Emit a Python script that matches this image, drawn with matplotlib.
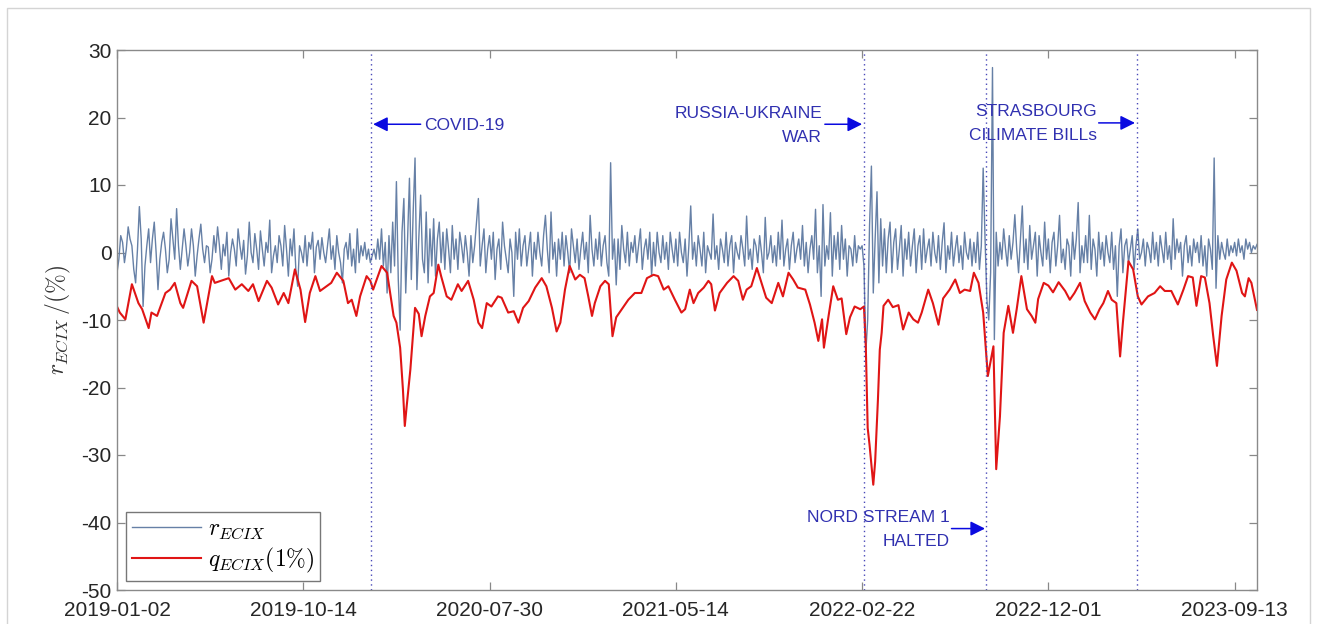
import numpy as np
import matplotlib
matplotlib.use('Agg')
import matplotlib.pyplot as plt

plt.rcParams['font.family'] = ['Liberation Sans', 'DejaVu Sans']
plt.rcParams['mathtext.fontset'] = 'cm'
plt.rcParams['axes.unicode_minus'] = False

# x axis is the observation number, labelled with dates every 200 obs
tick_pos = [0, 200, 400, 600, 800, 1000, 1200]
tick_labels = ['2019-01-02', '2019-10-14', '2020-07-30', '2021-05-14',
               '2022-02-22', '2022-12-01', '2023-09-13']
n_obs = 1224

# r_ECIX, read every 2nd observation (one row = 40 obs)
r_step = 2
r_ecix = [
    -3.0, -1.0, 2.5, 1.5, -1.5, 0.5, 3.8, 2.0, 1.0, -2.5, -4.5, 0.5, 6.8, 2.0, -8.0, -2.0, 1.0, 3.5, -1.5, 2.0,
    4.5, 0.0, -5.5, -1.0, 1.5, 3.0, 0.5, -3.0, -1.0, 5.0, 2.0, -1.0, 6.5, 1.0, -2.5, 0.5, 3.5, 1.0, -2.0, 0.0,
    3.5, 1.0, -3.5, -0.5, 2.0, 4.2, 0.5, -1.5, 1.0, 0.8, -3.0, -1.0, 2.5, 0.0, 3.8, 1.0, -2.5, 1.2, -0.5, 3.0,
    -3.5, 0.0, 2.0, 0.5, -2.0, 3.5, 1.0, -1.0, 1.8, -3.2, -0.5, 4.5, 0.0, -1.5, 2.8, 0.5, -2.5, 3.2, 0.5, -2.0,
    1.5, 0.0, 4.8, -3.0, -0.5, 1.0, -1.5, 2.5, 1.0, -2.0, 4.0, 0.5, -3.5, 2.0, -0.5, 3.5, -2.5, -5.0, 1.0, 0.0,
    -1.5, 2.5, -2.0, 1.5, 0.5, 3.0, -3.0, 0.8, 1.8, -1.0, 2.2, 0.0, -1.5, 1.0, 3.5, -1.0, 1.0, -2.5, 2.5, 0.0,
    -1.5, -4.5, 0.5, 1.5, -1.0, 2.8, -2.0, 0.5, -3.0, 3.5, -1.5, 1.0, -0.5, 1.5, -1.0, 0.5, -1.5, -0.5, 0.5, -1.0,
    2.0, -1.0, 3.5, -2.0, 1.5, -6.0, 2.5, -3.0, 4.5, -2.0, 10.5, -4.0, -11.5, 3.0, 8.0, -6.0, 2.0, 11.0, -4.0, 6.0,
    14.0, -5.5, 2.0, 8.5, -1.0, -3.0, 6.0, -4.5, 3.5, -2.0, 5.0, -3.5, 2.0, 4.5, -1.5, 3.0, -2.5, 3.5, 0.5, -3.0,
    4.0, -1.0, 2.0, -2.5, 3.0, 1.0, -1.5, 2.5, 0.0, -3.5, 2.5, -1.5, 1.0, 4.5, 8.0, -2.0, 1.0, 3.5, -3.0, 0.5,
    2.5, -1.0, 3.0, -4.0, 0.5, 2.0, -2.5, 4.5, 1.0, -1.0, -3.0, 2.0, 0.0, -6.5, 3.0, -1.0, 3.5, -2.0, 1.0, 2.5,
    -2.0, 0.5, 3.0, -3.5, 1.5, -1.0, 3.0, 0.0, -2.0, 2.5, 5.5, 0.5, -3.0, 6.0, -1.0, 1.5, -3.5, 2.0, -1.0, 3.0,
    -2.0, 2.5, 0.0, -3.0, 3.5, 1.0, -1.5, 2.0, -2.5, 0.5, 3.0, -1.0, 1.5, -3.0, 5.5, 0.5, -2.0, 2.0, -1.0, 3.0,
    -2.0, 1.0, 2.5, -1.5, -3.5, 13.3, -1.0, 2.0, -4.8, 2.0, -2.5, 4.0, 0.5, -1.5, 3.0, -2.0, 1.5, 0.0, 2.5, -1.5,
    1.0, 3.5, -2.5, 0.5, 2.0, -1.0, 3.0, -3.5, 1.5, -2.0, 3.0, 0.0, -1.5, 2.5, -1.0, 1.5, -2.5, 3.0, 0.5, -1.5,
    2.0, -2.0, 3.0, 0.0, -1.5, 2.0, -3.5, 1.0, 6.9, -1.0, 1.5, -2.0, 2.5, 0.5, -2.0, 3.0, -3.0, 1.0, 0.0, -1.0,
    5.7, -1.0, 1.0, -2.5, 2.0, 0.5, -1.5, 3.0, -2.0, 1.0, 2.5, -3.0, 1.5, 0.0, -1.0, 2.5, 0.5, -2.0, 5.4, -1.0,
    0.5, -2.5, 2.0, 1.0, -1.5, 2.5, 0.0, -3.0, 5.2, -1.0, 0.0, 2.5, -1.5, 1.0, -2.0, 3.0, -1.0, 4.8, -2.0, 0.5,
    2.0, -2.5, 1.0, 3.0, -1.5, 0.5, 2.0, -1.0, 4.0, -2.0, 1.5, -3.0, 0.5, 2.5, -1.0, 6.4, -3.0, 1.0, -6.5, 7.1,
    -2.0, 1.0, -1.0, 5.9, -3.5, 2.5, -1.0, 3.0, -2.5, 4.0, -1.0, 2.0, -3.5, 1.0, 0.5, -2.0, 2.5, -1.5, 1.0, 0.5,
    1.0, -2.0, -14.8, -10.0, 4.0, 12.8, -6.0, 2.0, 9.0, -4.5, 5.0, -2.0, 3.5, -3.0, 2.0, 4.5, -3.0, 1.5, 3.5, -2.5,
    0.5, 4.0, -3.5, 2.0, -1.0, 3.0, -2.0, 1.0, 3.5, -3.0, 1.0, 2.5, -2.5, 3.5, -1.5, 0.5, 2.0, -2.0, 3.0, 0.0,
    -1.5, 2.5, -2.5, 1.5, 4.4, -3.0, 1.0, -1.0, 3.0, -2.0, 0.5, 2.5, -1.5, 1.0, -2.5, 3.0, 0.0, -1.0, 2.0, -2.0,
    1.5, -1.5, 3.0, -2.5, 1.0, 12.5, 2.0, -7.0, -10.0, -3.0, 27.4, -12.9, 3.0, -2.0, 1.5, -1.0, 3.5, 0.5, -2.0, 2.5,
    -1.0, 1.5, 5.6, 0.5, -3.0, 2.0, 6.9, -1.5, 2.0, -2.5, 4.0, -1.0, 1.0, 3.0, -3.5, 2.5, 0.0, -2.0, 4.5, -1.0,
    2.0, -3.0, 1.5, 3.0, -2.0, 1.0, 5.5, -1.5, 0.5, -2.5, 2.0, 1.0, -3.5, 3.0, -1.0, 2.0, 7.4, -3.0, 1.0, -1.5,
    2.5, -1.5, 5.5, -2.5, 2.0, 0.5, -3.5, 3.0, -1.0, 1.5, -2.0, 2.5, 0.0, -1.5, 3.0, -2.5, 1.0, -6.5, 1.0, 3.5,
    -3.0, 1.0, 2.0, -1.5, 0.5, 2.5, -2.5, 1.0, 3.5, -1.0, 0.0, 2.0, -2.0, 1.5, 0.5, -1.5, 3.0, -1.0, 1.5, -2.0,
    2.5, 0.5, -1.5, 3.0, -1.0, 1.0, -2.5, 5.0, -1.0, 2.0, 0.0, 1.5, -3.5, 1.0, 2.5, -1.5, 1.0, -2.0, 2.0, 0.0,
    1.5, -1.5, 2.5, -2.0, 1.0, -3.5, 2.0, 0.5, -2.5, 14.0, -5.3, 2.5, -1.0, 1.5, 0.0, -1.0, 2.0, -0.5, 1.0, 0.0,
    1.5, -0.5, 2.0, 0.0, 1.0, -1.0, 2.0, 0.5, 1.5, 0.0, 1.0, 0.5, 1.2,
]

# q_ECIX(1%) read at its turning points
q_idx = [0, 3, 9, 16, 23, 27, 34, 37, 43, 52, 57, 62, 68, 71, 80, 86, 93, 102, 105, 120,
         127, 134, 141, 146, 152, 161, 166, 173, 179, 184, 191, 197, 202, 207, 213, 218, 223, 230, 236, 243,
         248, 252, 257, 261, 268, 272, 275, 284, 290, 297, 300, 304, 307, 309, 311, 315, 320, 324, 327, 331,
         336, 340, 345, 348, 354, 359, 366, 370, 377, 383, 388, 392, 397, 402, 409, 413, 420, 426, 431, 436,
         442, 449, 456, 461, 467, 472, 476, 481, 486, 492, 497, 502, 506, 510, 513, 519, 524, 528, 532, 536,
         542, 549, 556, 563, 569, 576, 581, 587, 592, 599, 606, 610, 615, 619, 624, 630, 635, 638, 642, 647,
         655, 662, 667, 672, 676, 681, 687, 692, 697, 703, 710, 715, 721, 726, 731, 739, 744, 749, 753, 757,
         759, 764, 769, 774, 778, 783, 787, 792, 798, 802, 804, 806, 808, 812, 814, 817, 819, 821, 823, 828,
         833, 839, 844, 850, 855, 860, 864, 871, 876, 882, 887, 894, 900, 905, 910, 916, 920, 925, 930, 935,
         939, 941, 944, 948, 952, 957, 962, 966, 971, 977, 982, 986, 989, 995, 1000, 1005, 1011, 1018, 1023, 1028,
         1034, 1039, 1045, 1050, 1055, 1059, 1064, 1068, 1073, 1077, 1080, 1086, 1091, 1096, 1100, 1107, 1114, 1120, 1125, 1132,
         1139, 1145, 1150, 1155, 1159, 1164, 1168, 1173, 1177, 1181, 1186, 1191, 1197, 1202, 1208, 1211, 1215, 1218, 1224]
q_val = [-8.0, -8.9, -9.9, -4.7, -7.5, -8.4, -11.2, -8.9, -9.4, -6.0, -5.5, -4.5, -7.5, -8.2, -4.2, -5.0, -10.4, -3.5, -4.5, -3.8,
         -5.5, -4.7, -5.7, -4.7, -7.2, -4.2, -5.2, -7.7, -6.0, -7.5, -2.5, -5.5, -10.3, -6.0, -3.5, -5.7, -5.2, -4.5, -3.0, -4.2,
         -7.5, -7.0, -9.4, -6.5, -3.5, -4.2, -5.5, -2.0, -3.0, -9.4, -10.4, -14.1, -20.3, -25.7, -22.8, -17.3, -8.2, -9.1, -12.4, -9.4,
         -6.5, -6.0, -1.8, -3.5, -6.5, -7.0, -4.7, -5.7, -4.2, -7.0, -10.4, -11.2, -7.5, -8.0, -6.5, -6.7, -8.9, -8.7, -10.4, -8.2,
         -7.2, -5.2, -3.8, -5.0, -8.2, -11.7, -10.4, -5.5, -2.0, -4.0, -3.3, -3.8, -6.5, -9.4, -7.5, -5.0, -4.2, -4.7, -12.4, -9.6,
         -8.4, -7.0, -6.0, -6.0, -3.8, -3.3, -3.5, -5.5, -5.0, -7.0, -8.9, -8.4, -5.5, -7.5, -6.0, -5.2, -4.2, -4.7, -8.6, -6.0,
         -4.5, -3.5, -4.2, -7.0, -5.5, -5.0, -2.3, -4.5, -6.7, -7.5, -4.5, -6.5, -3.0, -4.0, -5.2, -5.5, -7.7, -10.4, -13.1, -9.9,
         -14.1, -9.4, -5.0, -7.0, -6.8, -12.1, -9.6, -8.0, -8.4, -8.0, -14.0, -26.0, -28.5, -34.4, -31.0, -21.8, -14.4, -11.9, -7.9, -7.0,
         -8.1, -7.8, -11.4, -8.9, -9.9, -10.4, -8.9, -5.5, -7.5, -10.7, -6.8, -5.5, -4.0, -6.0, -5.5, -5.7, -3.0, -4.5, -8.9, -18.3,
         -15.4, -13.9, -32.1, -24.3, -11.9, -7.9, -11.9, -8.4, -3.5, -8.4, -9.4, -10.4, -6.9, -4.5, -4.9, -5.9, -4.4, -5.7, -7.0, -6.0,
         -4.5, -7.2, -8.9, -9.9, -8.4, -7.5, -5.7, -7.0, -7.5, -15.4, -10.4, -1.3, -2.5, -6.5, -7.7, -6.5, -6.0, -5.0, -5.7, -5.7,
         -7.7, -5.5, -3.5, -3.7, -7.9, -3.5, -3.7, -7.5, -12.4, -16.8, -9.4, -4.0, -1.5, -2.7, -6.0, -6.5, -3.8, -4.5, -8.5]

# events (observation number of the dotted lines)
event_idx = [273, 802, 933, 1095]

fig = plt.figure(figsize=(13.19, 6.24), dpi=100)
ax = fig.add_axes([117/1319, 34/624, 1140/1319, 540/624])

r_x = np.arange(len(r_ecix)) * r_step
ax.plot(r_x, r_ecix, color='#6680a6', lw=1.0, label=r'$r_{ECIX}$')
ax.plot(q_idx, q_val, color='#e01515', lw=1.5, label=r'$q_{ECIX}(1\%)$')

for e in event_idx:
    ax.axvline(e, color='#4848b8', lw=1.0, ls=(0, (1, 2.5)))

ax.set_xlim(0, n_obs)
ax.set_ylim(-50, 30)
ax.set_xticks(tick_pos)
ax.set_xticklabels(tick_labels)
ax.set_yticks(np.arange(-50, 31, 10))
ax.tick_params(direction='in', top=True, right=True, length=6, width=0.9,
               colors='#888888', labelcolor='#262626', labelsize=15)
ax.tick_params(axis='x', pad=8)
ax.tick_params(axis='y', pad=4)
for s in ax.spines.values():
    s.set_color('#8a8a8a')
    s.set_linewidth(1.0)

ax.set_ylabel(r'$r_{ECIX}\,/(\%)$', fontsize=17, color='#333333', labelpad=6)

txt_c = '#3030b0'
arr_c = '#0a0ae0'
arr = dict(arrowstyle='-|>', color=arr_c, lw=1.1, mutation_scale=22, shrinkA=0, shrinkB=0)

ax.annotate('', xy=(275, 19.0), xytext=(326, 19.0), arrowprops=arr)
ax.text(330, 18.8, 'COVID-19', color=txt_c, fontsize=12.5, ha='left', va='center')

ax.annotate('', xy=(800, 19.0), xytext=(760, 19.0), arrowprops=arr)
ax.text(757, 18.8, 'RUSSIA-UKRAINE\nWAR', color=txt_c, fontsize=12.5,
        ha='right', va='center', multialignment='right', linespacing=1.75)

ax.annotate('', xy=(1093, 19.2), xytext=(1054, 19.2), arrowprops=arr)
ax.text(1052, 19.1, 'STRASBOURG\nCILIMATE BILLs', color=txt_c, fontsize=12.5,
        ha='right', va='center', multialignment='right', linespacing=1.75)

ax.annotate('', xy=(932, -40.9), xytext=(896, -40.9), arrowprops=arr)
ax.text(894, -41.0, 'NORD STREAM 1\nHALTED', color=txt_c, fontsize=12.5,
        ha='right', va='center', multialignment='right', linespacing=1.75)

leg = ax.legend(loc='lower left', fontsize=17, fancybox=False, edgecolor='#777777',
                framealpha=1, handlelength=2.9, borderaxespad=0.4, borderpad=0.25,
                labelspacing=0.2, handletextpad=0.3)
leg.get_frame().set_linewidth(1.0)

# light screenshot frame
fig.add_artist(plt.Rectangle((7/1319, -0.05), 1303/1319, 1.05 - 8/624,
                             transform=fig.transFigure, fill=False,
                             edgecolor='#d4d4d4', lw=1.0))

fig.savefig('out.png', dpi=100)
